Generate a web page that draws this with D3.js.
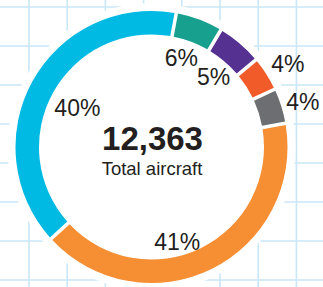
<!DOCTYPE html>
<html>
<head>
<meta charset="utf-8">
<script src="https://cdn.jsdelivr.net/npm/d3@7"></script>
<style>
  body { margin: 0; background: #fff; }
  text { font-family: "Liberation Sans", Arial, sans-serif; fill: #231f20; }
</style>
</head>
<body>
<div id="chart"></div>
<script>
var svgWidth = 323;
var svgHeight = 287;

// data
var categories = ["Teal", "Purple", "Red", "Grey", "Orange", "Cyan"];
var shares = [5.6, 5.4, 4.1, 4.2, 41.0, 39.7];
var labels = ["6%", "5%", "4%", "4%", "41%", "40%"];
var totalValue = 12363;
var totalLabel = "Total aircraft";

var colors = ["#16a08d", "#553192", "#f15a29", "#6d6e71", "#f68e33", "#00bae3"];

// label placement: radius and angle nudge (degrees) for each slice
var labelRadius = [94, 94, 160, 158, 98, 84];
var labelNudge = [-2, 1, 1, 1, 11, -1];

var cx = 151.5, cy = 147;
var outerR = 136, innerR = 112.5;

var svg = d3.select("#chart").append("svg").attr("width", svgWidth).attr("height", svgHeight);

// background grid
var gridX = d3.range(29, svgWidth, 38.2);
var gridY = d3.range(7, svgHeight, 39);
svg.append("g").selectAll("line").data(gridX).enter().append("line")
    .attr("x1", d => d).attr("x2", d => d).attr("y1", 0).attr("y2", svgHeight)
    .attr("stroke", "#c9e7f7").attr("stroke-width", 1.6);
svg.append("g").selectAll("line").data(gridY).enter().append("line")
    .attr("y1", d => d).attr("y2", d => d).attr("x1", 0).attr("x2", svgWidth)
    .attr("stroke", "#c9e7f7").attr("stroke-width", 1.6);

var chartGroup = svg.append("g").attr("transform", `translate(${cx},${cy})`);

chartGroup.append("circle").attr("r", outerR + 8).attr("fill", "#fff");

var pie = d3.pie().sort(null).value(d => d).startAngle(10.5 * Math.PI / 180).endAngle(10.5 * Math.PI / 180 + 2 * Math.PI);
var arcs = pie(shares);

var arc = d3.arc().innerRadius(innerR).outerRadius(outerR).padAngle(0.026).padRadius(outerR);

chartGroup.selectAll("path").data(arcs).enter().append("path")
    .attr("d", arc)
    .attr("fill", (d, i) => colors[i]);

chartGroup.selectAll(".pct").data(arcs).enter().append("text")
    .attr("class", "pct")
    .attr("x", (d, i) => {
        var a = (d.startAngle + d.endAngle) / 2 + labelNudge[i] * Math.PI / 180;
        return Math.sin(a) * labelRadius[i];
    })
    .attr("y", (d, i) => {
        var a = (d.startAngle + d.endAngle) / 2 + labelNudge[i] * Math.PI / 180;
        return -Math.cos(a) * labelRadius[i];
    })
    .attr("dy", "0.36em")
    .attr("text-anchor", "middle")
    .attr("font-size", "23px")
    .text((d, i) => labels[i]);

chartGroup.append("text")
    .attr("x", 1).attr("y", 3)
    .attr("text-anchor", "middle")
    .attr("font-size", "33px")
    .attr("font-weight", "bold")
    .text(d3.format(",")(totalValue));

chartGroup.append("text")
    .attr("x", 0.5).attr("y", 28)
    .attr("text-anchor", "middle")
    .attr("font-size", "18.5px")
    .text(totalLabel);
</script>
</body>
</html>
